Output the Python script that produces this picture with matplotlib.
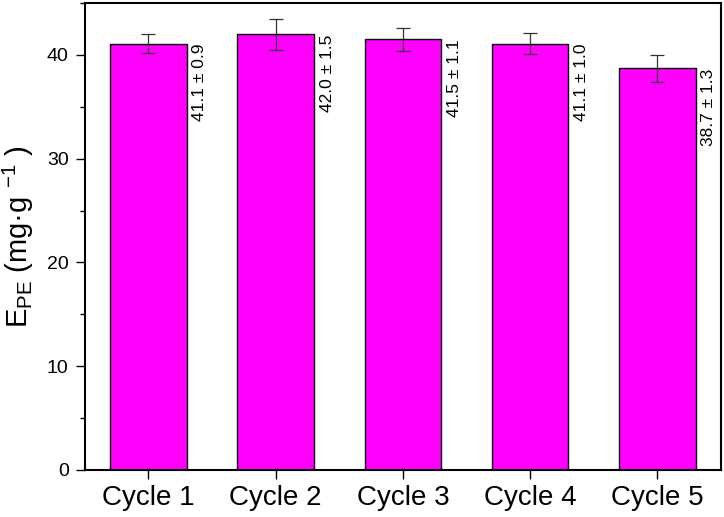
import matplotlib
matplotlib.use("Agg")
import matplotlib.pyplot as plt
from matplotlib.ticker import MultipleLocator

plt.rcParams['font.family'] = ['Liberation Sans', 'DejaVu Sans']
plt.rcParams['mathtext.fontset'] = 'custom'
plt.rcParams['mathtext.rm'] = 'Liberation Sans'
plt.rcParams['mathtext.it'] = 'Liberation Sans'

## Data
cycles = ["Cycle 1", "Cycle 2", "Cycle 3", "Cycle 4", "Cycle 5"]
means = [41.1, 42.0, 41.5, 41.1, 38.7]
errors = [0.9, 1.5, 1.1, 1.0, 1.3]

fig = plt.figure(figsize=(7.24, 5.17), dpi=100)
ax = fig.add_axes([0.117, 0.091, 0.879, 0.903])

x = list(range(len(cycles)))
ax.bar(x, means, width=0.6, color="#FF00FF", edgecolor="black", linewidth=1.0, zorder=2)
ax.errorbar(x, means, yerr=errors, fmt="none", ecolor="#333333", elinewidth=0.9,
            capsize=5, capthick=0.9, zorder=3)

# value labels, rotated, next to each bar (text ends at bar top)
for xi, m, e in zip(x, means, errors):
    ax.text(xi + 0.345, m, f"{m:.1f} ± {e:.1f}", rotation=90, ha="right", va="top",
            fontsize=12.5, rotation_mode="anchor")

ax.set_xlim(-0.5, 4.5)
ax.set_ylim(0, 45)
ax.set_xticks(x)
ax.set_xticklabels(cycles, fontsize=20)
ax.yaxis.set_major_locator(MultipleLocator(10))
ax.yaxis.set_minor_locator(MultipleLocator(5))
ax.tick_params(axis="y", which="major", direction="out", length=6.5, width=1, labelsize=14, pad=5)
ax.tick_params(axis="y", which="minor", direction="out", length=3.5, width=1)
ax.tick_params(axis="x", which="major", direction="out", length=6.5, width=1, pad=4)
for s in ax.spines.values():
    s.set_linewidth(1.5)

ax.set_ylabel(r"E$_{\mathrm{PE}}$ (mg·g $^{\mathrm{-1}}$ )", fontsize=21)
ax.yaxis.set_label_coords(-0.077, 0.5)

fig.savefig("out.png", dpi=100)
